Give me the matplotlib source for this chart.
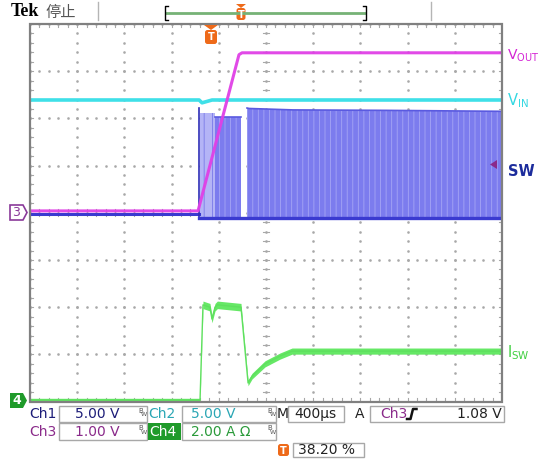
import matplotlib
matplotlib.use("Agg")
import matplotlib.pyplot as plt
import matplotlib.patches as mpatches
import numpy as np

# ---- screen settings (Tek readout) ----
US_PER_DIV = 400
TRIG_POS = 0.382          # 38.20 %
N_XDIV, N_YDIV = 10, 8

# ---- traces: time in us relative to trigger, values in screen divisions ----
vout_t = [-1528, -104, 243, 269, 2472]
vout_div = [0.04, 0.04, 3.35, 3.39, 3.39]

vin_t = [-1528, -95, -70, 15, 2472]
vin_div = [2.39, 2.39, 2.33, 2.39, 2.39]

sw_pre_t = [-1528, -95]
sw_pre_div = [-0.02, -0.02]
sw_low_div = -0.11
# switching bursts: (start, end, top level)
sw_sparse_t = [-87, 40]
sw_sparse_top = [2.12, 2.12]
sw_burst1_t = [40, 260]
sw_burst1_top = [2.04, 2.04]
sw_burst2_t = [311, 330, 700, 1500, 2472]
sw_burst2_top = [2.22, 2.21, 2.18, 2.17, 2.15]
sw_spike_t = [-96, -94]
sw_spike_top = [2.22, 2.22]

# inductor current in A (Ch4 = 2.00 A/div, ground at bottom)
isw_t = [-1528, -87, -62, -3, 14, 40, 60, 260, 320, 354, 464, 591, 693, 2472]
isw_amp = [0.07, 0.07, 4.10, 4.00, 3.50, 4.00, 4.10, 4.00, 0.79, 1.08, 1.60, 1.93, 2.14, 2.14]
isw_band = [0.07, 0.07, 0.16, 0.16, 0.16, 0.16, 0.16, 0.16, 0.12, 0.12, 0.13, 0.13, 0.13, 0.13]
CH4_A_PER_DIV = 2.0
CH4_GND_DIV = -4.0

fig = plt.figure(figsize=(5.38, 4.59), dpi=100)
fig.patch.set_facecolor("white")

W, H = 538, 459
gx0, gx1, gy0, gy1 = 30, 502, 24, 401.6

ax = fig.add_axes([gx0 / W, 1 - gy1 / H, (gx1 - gx0) / W, (gy1 - gy0) / H])
t_left = -TRIG_POS * N_XDIV * US_PER_DIV
t_right = t_left + N_XDIV * US_PER_DIV
ax.set_xlim(t_left, t_right)
ax.set_ylim(-N_YDIV / 2, N_YDIV / 2)
ax.axis("off")

# graticule
grid_c = "#a8a8a8"
minor_y = np.arange(-4, 4.01, 0.2)
minor_x = t_left + np.arange(0, 10.01, 0.2) * US_PER_DIV
for k in range(N_XDIV + 1):
    xk = t_left + k * US_PER_DIV
    ax.plot([xk] * len(minor_y), minor_y, ls="none", marker="s", ms=0.8, color=grid_c, zorder=1)
for j in range(-4, 5):
    ax.plot(minor_x, [j] * len(minor_x), ls="none", marker="s", ms=0.8, color=grid_c, zorder=1)
t_c = t_left + 5 * US_PER_DIV
tk = 0.07
for yv in minor_y:
    ax.plot([t_c - tk * US_PER_DIV, t_c + tk * US_PER_DIV], [yv, yv], color=grid_c, lw=0.8, zorder=1)
    ax.plot([t_left, t_left + tk * US_PER_DIV], [yv, yv], color=grid_c, lw=0.8, zorder=1)
    ax.plot([t_right, t_right - tk * US_PER_DIV], [yv, yv], color=grid_c, lw=0.8, zorder=1)
for xv in minor_x:
    ax.plot([xv, xv], [-tk, tk], color=grid_c, lw=0.8, zorder=1)
    ax.plot([xv, xv], [4, 4 - tk], color=grid_c, lw=0.8, zorder=1)
    ax.plot([xv, xv], [-4, -4 + tk], color=grid_c, lw=0.8, zorder=1)
ax.add_patch(mpatches.Rectangle((t_left, -4), t_right - t_left, 8, fill=False,
                                ec="#808080", lw=1.6, zorder=6, clip_on=False))

# VIN (cyan)
ax.plot(vin_t, vin_div, color="#3fe0e8", lw=2.6, zorder=3)

# SW (blue) - dense switching drawn as filled envelope with a vertical-line texture
plt.rcParams["hatch.linewidth"] = 0.6
fill_c = "#7c7cee"
ax.plot(sw_pre_t, sw_pre_div, color="#3a3ad0", lw=2.2, zorder=3)
ax.fill_between(sw_sparse_t, sw_low_div, sw_sparse_top, fc="#b4b4f6", ec="#7a7ae8",
                hatch="||", lw=0, zorder=2)
ax.fill_between(sw_burst1_t, sw_low_div, sw_burst1_top, fc=fill_c, ec="#a6a6f5",
                hatch="|||", lw=0, zorder=2)
ax.fill_between(sw_burst2_t, sw_low_div, sw_burst2_top, fc=fill_c, ec="#a6a6f5",
                hatch="|||", lw=0, zorder=2)
ax.plot(sw_burst1_t, sw_burst1_top, color="#5a5ae0", lw=1.2, zorder=2)
ax.plot(sw_burst2_t, sw_burst2_top, color="#5a5ae0", lw=1.2, zorder=2)
ax.plot(sw_spike_t, sw_spike_top, color="#2e2eb8", lw=1.0, zorder=3)
ax.plot([sw_spike_t[0]] * 2, [sw_low_div, sw_spike_top[0]], color="#2e2eb8", lw=1.2, zorder=3)
ax.plot([sw_pre_t[-1], t_right], [sw_low_div, sw_low_div], color="#3a3ad0", lw=2.4, zorder=3)

# VOUT (magenta)
ax.plot(vout_t, vout_div, color="#e040e6", lw=2.2, zorder=4, alpha=0.95)

# ISW (green)
isw_div = np.array(isw_amp) / CH4_A_PER_DIV + CH4_GND_DIV
band_div = np.array(isw_band) / CH4_A_PER_DIV
ax.fill_between(isw_t, isw_div - band_div, isw_div + band_div, color="#66e866", lw=0, zorder=4)
ax.plot(isw_t, isw_div, color="#5ee05e", lw=1.0, zorder=4)

# ---- overlay in screen pixels ----
ov = fig.add_axes([0, 0, 1, 1], zorder=10)
ov.set_xlim(0, W)
ov.set_ylim(H, 0)
ov.axis("off")
ov.patch.set_alpha(0)

orange = "#ee6a1a"


def t_badge(x, y, w=11, h=13):
    ov.add_patch(mpatches.FancyBboxPatch((x - w / 2, y - h / 2), w, h,
                                         boxstyle="round,pad=0,rounding_size=2.5", fc=orange, ec="none"))
    ov.text(x, y + 0.5, "T", color="white", fontsize=7, fontweight="bold", ha="center", va="center")


# header
ov.text(11, 12, "Tek", family="Liberation Serif", fontweight="bold", fontsize=13, ha="left", va="center")
ov.text(46, 12.5, "停止", family=["Noto Sans CJK SC", "DejaVu Sans"], fontsize=11, color="#555555",
        ha="left", va="center")
ov.plot([98, 98], [2, 20], color="#b5b5b5", lw=1)
ov.plot([431, 431], [2, 20], color="#b5b5b5", lw=1)
ov.plot([166, 365], [13, 13], color="#76b276", lw=2)
ov.plot([168, 165, 165, 168], [6, 6, 20, 20], color="black", lw=1)
ov.plot([363, 366, 366, 363], [6, 6, 20, 20], color="black", lw=1)
ov.add_patch(mpatches.Polygon([[236, 4], [246, 4], [241, 8]], closed=True, fc=orange, ec="none"))
t_badge(241, 14, w=9, h=12)

# trigger marker
ov.add_patch(mpatches.Polygon([[204, 25], [218, 25], [211, 30]], closed=True, fc=orange, ec="none"))
t_badge(211, 37, w=12, h=14)

# channel ground markers
ov.add_patch(mpatches.Polygon([[10, 205], [23, 205], [27, 212.5], [23, 220], [10, 220]], closed=True,
                              fc="white", ec="#8a3a9a", lw=1.2))
ov.text(16.5, 213, "3", color="#8a3a9a", fontsize=9, ha="center", va="center")
ov.add_patch(mpatches.Polygon([[10, 393], [23, 393], [27, 400.5], [23, 408], [10, 408]], closed=True,
                              fc="#1f9a2a", ec="none"))
ov.text(16.5, 401, "4", color="white", fontsize=9, fontweight="bold", ha="center", va="center")
ov.add_patch(mpatches.Polygon([[490, 164.5], [497, 160], [497, 169]], closed=True, fc="#8a2a8a", ec="none"))

# trace labels
ov.text(507, 56, r"V$_{\mathregular{OUT}}$", color="#d424d4", fontsize=10, ha="left", va="center")
ov.text(507, 101, r"V$_{\mathregular{IN}}$", color="#34d8e2", fontsize=10.5, ha="left", va="center")
ov.text(508, 171, "SW", color="#1c2c9c", fontsize=10.5, fontweight="bold", ha="left", va="center")
ov.text(507, 353, r"I$_{\mathregular{SW}}$", color="#3ecf3e", fontsize=10.5, ha="left", va="center")

# readout
box_ec = "#a8a8a8"
fs = 10


def box(x0, x1, y0, y1):
    ov.add_patch(mpatches.Rectangle((x0, y0), x1 - x0, y1 - y0, fill=False, ec=box_ec, lw=1))


def bw(x, y):
    ov.text(x, y - 3, "B", fontsize=5, color="#555555", ha="left", va="center")
    ov.text(x + 3, y + 1, "W", fontsize=4.5, color="#555555", ha="left", va="center")


navy, teal, purple, green = "#1c1c78", "#2aa6b4", "#8a2a8a", "#2a9a3a"
r1, r2, r3 = 414, 431.5, 450

ov.text(29, r1, "Ch1", color=navy, fontsize=fs, ha="left", va="center")
box(59, 147, 406, 422)
ov.text(75, r1, "5.00 V", color=navy, fontsize=fs, ha="left", va="center")
bw(138, r1)
ov.text(148, r1, "Ch2", color=teal, fontsize=fs, ha="left", va="center")
box(182, 276, 406, 422)
ov.text(191, r1, "5.00 V", color=teal, fontsize=fs, ha="left", va="center")
bw(267, r1)
ov.text(277, r1, "M", color="#222222", fontsize=fs, ha="left", va="center")
box(288, 344, 406, 422)
ov.text(294, r1, "400µs", color="#222222", fontsize=fs, ha="left", va="center")
ov.text(355, r1, "A", color="#222222", fontsize=fs, ha="left", va="center")
box(370, 504, 406, 422)
ov.text(380, r1, "Ch3", color=purple, fontsize=fs, ha="left", va="center")
ov.plot([407, 410.5, 413, 416.5], [419, 419, 409, 409], color="#111111", lw=1.8)
ov.text(502, r1, "1.08 V", color="#222222", fontsize=fs, ha="right", va="center")

ov.text(29, r2, "Ch3", color=purple, fontsize=fs, ha="left", va="center")
box(59, 147, 423, 440)
ov.text(75, r2, "1.00 V", color=purple, fontsize=fs, ha="left", va="center")
bw(138, r2)
ov.add_patch(mpatches.Rectangle((148, 423), 33, 17, fc="#1f9a2a", ec="none"))
ov.text(149, r2, "Ch4", color="white", fontsize=fs, ha="left", va="center")
box(182, 276, 423, 440)
ov.text(191, r2, "2.00 A Ω", color=green, fontsize=fs, ha="left", va="center")
bw(267, r2)

t_badge(283.5, r3, w=11, h=12)
box(293, 364, 443, 457)
ov.text(298, r3, "38.20 %", color="#222222", fontsize=fs, ha="left", va="center")

fig.savefig("out.png", dpi=100)
